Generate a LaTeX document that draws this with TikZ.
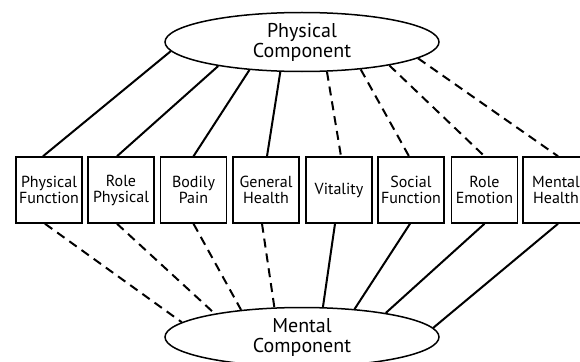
\documentclass[tikz,border=0pt]{standalone}
\usepackage{fontspec}
\setmainfont{PT Sans}
\usetikzlibrary{shapes.geometric}
\begin{document}
\begin{tikzpicture}[x=1pt,y=-1pt,
  comp/.style={ellipse,draw,line width=1.5pt,minimum width=274pt,minimum height=59pt,inner sep=0pt,align=center,font=\fontsize{20}{20}\selectfont},
  sbox/.style={rectangle,draw,line width=1.5pt,minimum width=66pt,minimum height=66pt,inner sep=0pt,align=center,font=\fontsize{16}{16}\selectfont},
  link/.style={line width=2pt},
  dlink/.style={line width=2pt,dash pattern=on 9pt off 6pt}]
\useasboundingbox (0,0) rectangle (580,361);
\clip (0,0) rectangle (580,361);
\node[comp] (pc) at (302,42) {Physical\\Component};
\node[comp] (mc) at (302,337) {Mental\\Component};
\node[sbox] (b1) at (49,190) {Physical\\Function};
\node[sbox] (b2) at (121,190) {Role\\Physical};
\node[sbox] (b3) at (193.5,190) {Bodily\\Pain};
\node[sbox] (b4) at (266,190) {General\\Health};
\node[sbox] (b5) at (339,190) {Vitality};
\node[sbox] (b6) at (411,190) {Social\\Function};
\node[sbox] (b7) at (484.5,190) {Role\\Emotion};
\node[sbox] (b8) at (556,190) {Mental\\Health};
% top connectors
\draw[link] (pc.184) -- ([xshift=-6pt]b1.north);
\draw[link] (pc.196) -- ([xshift=-4pt]b2.north);
\draw[link] (pc.208) -- (b3.north);
\draw[link] (pc.234) -- ([xshift=1pt]b4.north);
\draw[dlink] (pc.310) -- ([xshift=2pt]b5.north);
\draw[dlink] (pc.335) -- ([xshift=-2pt]b6.north);
\draw[dlink] (pc.345) -- (b7.north);
\draw[dlink] (pc.352) -- ([xshift=2pt]b8.north);
% bottom connectors
\draw[dlink] ([xshift=-4pt]b1.south) -- (mc.173);
\draw[dlink] ([xshift=-4pt]b2.south) -- (mc.165);
\draw[dlink] (b3.south) -- (mc.156);
\draw[dlink] ([xshift=-4pt]b4.south) -- (mc.133);
\draw[link] ([xshift=-4pt]b5.south) -- (mc.55);
\draw[link] ([xshift=-1pt]b6.south) -- (mc.28);
\draw[link] (b7.south) -- (mc.16);
\draw[link] ([xshift=2pt]b8.south) -- (mc.4);
\end{tikzpicture}
\end{document}
